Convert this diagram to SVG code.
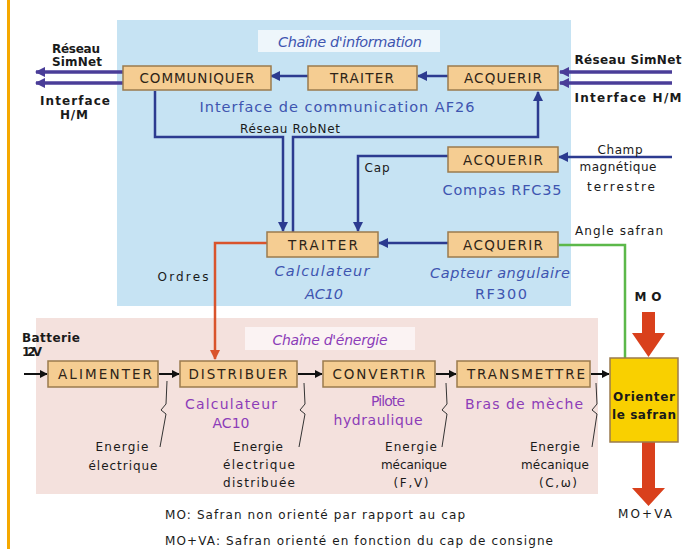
<svg xmlns="http://www.w3.org/2000/svg" width="694" height="549" viewBox="0 0 694 549">
<defs>
<style>
text{font-family:"DejaVu Sans","Liberation Sans",sans-serif;text-anchor:middle}
.bt{font-size:13.5px;fill:#2e2418}
.blue{font-size:14.5px;fill:#3e55b0}
.purp{font-size:14px;fill:#8c3cb8}
.lab{font-size:12px;fill:#1a1a1a;font-weight:bold}
.sm{font-size:12px;fill:#1a1a1a}
.box{fill:#f5cd92;stroke:#9a7b4e;stroke-width:1.5}
.bl{fill:none;stroke:#2c3b90;stroke-width:2.5}
.bk{fill:none;stroke:#111;stroke-width:2}
.thin{fill:none;stroke:#333;stroke-width:1}
.dbl{fill:none;stroke:#4a3d98;stroke-width:3.5}
</style>
<marker id="ab" viewBox="0 0 10 10" refX="9" refY="5" markerWidth="4" markerHeight="4" orient="auto"><path d="M0,0L10,5L0,10z" fill="#2c3b90"/></marker>
<marker id="ak" viewBox="0 0 10 10" refX="9" refY="5" markerWidth="4" markerHeight="4" orient="auto"><path d="M0,0L10,5L0,10z" fill="#111"/></marker>
<marker id="ar" viewBox="0 0 10 10" refX="9" refY="5" markerWidth="4" markerHeight="4" orient="auto"><path d="M0,0L10,5L0,10z" fill="#d9542c"/></marker>
<marker id="ap" viewBox="0 0 10 10" refX="9" refY="5" markerWidth="3" markerHeight="3" orient="auto"><path d="M0,0L10,5L0,10z" fill="#4a3d98"/></marker>
</defs>
<rect x="0" y="0" width="694" height="549" fill="#ffffff"/>
<rect x="7" y="0" width="3" height="549" fill="#f5a800"/>
<!-- backgrounds -->
<rect x="117" y="20" width="454" height="286" fill="#c6e3f3"/>
<rect x="258" y="30" width="182" height="22" fill="#eef6fb"/>
<text x="350" y="47" class="blue" font-style="italic" font-size="13" textLength="144">Chaîne d'information</text>
<rect x="36" y="318" width="562" height="176" fill="#f4e1dd"/>
<rect x="245" y="327" width="170" height="23" fill="#fbf3f3"/>
<text x="330" y="345" class="purp" font-style="italic" font-size="13" textLength="115">Chaîne d'énergie</text>

<!-- connectors -->
<g id="connectors">
<line x1="123" y1="72" x2="36" y2="72" class="dbl" marker-end="url(#ap)"/>
<line x1="123" y1="83" x2="36" y2="83" class="dbl" marker-end="url(#ap)"/>
<line x1="672" y1="72" x2="560" y2="72" class="dbl" marker-end="url(#ap)"/>
<line x1="672" y1="83" x2="560" y2="83" class="dbl" marker-end="url(#ap)"/>
<line x1="308" y1="76" x2="271" y2="76" class="bl" marker-end="url(#ab)"/>
<line x1="448" y1="76" x2="418" y2="76" class="bl" marker-end="url(#ab)"/>
<polyline points="155,91 155,137 283,137 283,231" class="bl" marker-end="url(#ab)"/>
<polyline points="293,232 293,137 538,137 538,92" class="bl" marker-end="url(#ab)"/>
<polyline points="448,156 358,156 358,231" class="bl" marker-end="url(#ab)"/>
<line x1="672" y1="157" x2="559" y2="157" class="bl" marker-end="url(#ab)"/>
<line x1="448" y1="243" x2="379" y2="243" class="bl" marker-end="url(#ab)"/>
<polyline points="559,245 625,245 625,358" fill="none" stroke="#5cb84a" stroke-width="2.5"/>
<polyline points="267,243 215,243 215,359" fill="none" stroke="#d9542c" stroke-width="2.5" marker-end="url(#ar)"/>
<line x1="24" y1="374" x2="47" y2="374" class="bk" marker-end="url(#ak)"/>
<line x1="159" y1="374" x2="179" y2="374" class="bk" marker-end="url(#ak)"/>
<line x1="298" y1="374" x2="322" y2="374" class="bk" marker-end="url(#ak)"/>
<line x1="436" y1="374" x2="456" y2="374" class="bk" marker-end="url(#ak)"/>
<line x1="591" y1="374" x2="609" y2="374" class="bk" marker-end="url(#ak)"/>
<polyline points="167,381 166,404 161,410 166,414 160,447" class="thin"/>
<polyline points="304,383 305,404 300,410 305,414 299,447" class="thin"/>
<polyline points="446,383 447,404 442,410 447,414 442,447" class="thin"/>
<polyline points="596,383 597,404 592,410 597,414 592,447" class="thin"/>
<path d="M642,312 h13 v21 h10 l-16.5,24 l-16.5,-24 h10 z" fill="#d9401c"/>
<path d="M642,442 h13 v46 h10 l-16.5,18 l-16.5,-18 h10 z" fill="#d9401c"/>
</g>

<!-- nodes -->
<g id="communiquer"><rect x="123" y="66" width="148" height="24" class="box"/><text x="197" y="83" class="bt" textLength="115">COMMUNIQUER</text></g>
<g id="traiter1"><rect x="308" y="66" width="109" height="24" class="box"/><text x="362" y="83" class="bt" textLength="64">TRAITER</text></g>
<g id="acquerir1"><rect x="448" y="66" width="110" height="24" class="box"/><text x="503" y="83" class="bt" textLength="78">ACQUERIR</text></g>
<g id="acquerir2"><rect x="448" y="147" width="110" height="25" class="box"/><text x="503" y="164.5" class="bt" textLength="80">ACQUERIR</text></g>
<g id="traiter2"><rect x="267" y="232" width="111" height="25" class="box"/><text x="323" y="249.5" class="bt" textLength="70">TRAITER</text></g>
<g id="acquerir3"><rect x="448" y="232" width="110" height="25" class="box"/><text x="503" y="249.5" class="bt" textLength="80">ACQUERIR</text></g>
<g id="alimenter"><rect x="48" y="361" width="110" height="26" class="box"/><text x="105" y="379" class="bt" textLength="94">ALIMENTER</text></g>
<g id="distribuer"><rect x="180" y="361" width="117" height="26" class="box"/><text x="238" y="379" class="bt" textLength="99">DISTRIBUER</text></g>
<g id="convertir"><rect x="323" y="361" width="112" height="26" class="box"/><text x="379" y="379" class="bt" textLength="93">CONVERTIR</text></g>
<g id="transmettre"><rect x="457" y="361" width="133" height="26" class="box"/><text x="526" y="379" class="bt" textLength="118">TRANSMETTRE</text></g>
<g id="orienter"><rect x="610" y="358" width="68" height="84" fill="#f9d000" stroke="#9a7b4e" stroke-width="1.5"/><text x="644" y="401" class="lab" font-size="11.5" textLength="62">Orienter</text><text x="644" y="419" class="lab" font-size="11.5" textLength="64">le safran</text></g>

<!-- labels -->
<text x="76" y="53" class="lab" font-size="10.5" textLength="48">Réseau</text>
<text x="77" y="66" class="lab" font-size="10.5" textLength="50">SimNet</text>
<text x="75" y="105" class="lab" font-size="11" textLength="70">Interface</text>
<text x="74" y="119" class="lab" font-size="11" textLength="28">H/M</text>
<text x="628" y="64" class="lab" textLength="107">Réseau SimNet</text>
<text x="628" y="102" class="lab" textLength="107">Interface H/M</text>
<text x="337" y="112" class="blue" textLength="275">Interface de communication AF26</text>
<text x="290" y="133" class="sm" font-size="11" textLength="100">Réseau RobNet</text>
<text x="377" y="172" class="sm" textLength="25">Cap</text>
<text x="502" y="195" class="blue" textLength="119">Compas RFC35</text>
<text x="620" y="154" class="sm" textLength="45">Champ</text>
<text x="618" y="171" class="sm" textLength="77">magnétique</text>
<text x="621" y="191" class="sm" textLength="68">terrestre</text>
<text x="619" y="235" class="sm" textLength="88">Angle safran</text>
<text x="322" y="276" class="blue" font-style="italic" textLength="95">Calculateur</text>
<text x="324" y="299" class="blue" font-style="italic" textLength="38">AC10</text>
<text x="500" y="278" class="blue" font-style="italic" textLength="140">Capteur angulaire</text>
<text x="501" y="299" class="blue" textLength="52">RF300</text>
<text x="183" y="281" class="sm" textLength="51">Ordres</text>
<text x="648" y="301" class="lab" textLength="27">MO</text>
<text x="22" y="342" class="lab" font-size="10.5" style="text-anchor:start" textLength="58">Batterie</text>
<text x="22" y="356" class="lab" font-size="10.5" style="text-anchor:start" textLength="20">12V</text>
<text x="231" y="409" class="purp" textLength="92">Calculateur</text>
<text x="231" y="428" class="purp" textLength="37">AC10</text>
<text x="388" y="406" class="purp" textLength="34">Pilote</text>
<text x="378" y="425" class="purp" textLength="89">hydraulique</text>
<text x="524" y="409" class="purp" textLength="118">Bras de mèche</text>
<text x="122" y="451" class="sm" textLength="53">Energie</text>
<text x="123" y="470" class="sm" textLength="69">électrique</text>
<text x="258" y="451" class="sm" textLength="50">Energie</text>
<text x="259" y="469" class="sm" textLength="72">électrique</text>
<text x="259" y="487" class="sm" textLength="72">distribuée</text>
<text x="411" y="451" class="sm" textLength="52">Energie</text>
<text x="414" y="469" class="sm" textLength="66">mécanique</text>
<text x="411" y="487" class="sm" textLength="35">(F,V)</text>
<text x="555" y="451" class="sm" textLength="50">Energie</text>
<text x="555" y="469" class="sm" textLength="68">mécanique</text>
<text x="558" y="487" class="sm" textLength="38">(C,ω)</text>
<text x="645" y="518" class="sm" textLength="54">MO+VA</text>
<text x="165" y="519" class="sm" style="text-anchor:start" textLength="300">MO: Safran non orienté par rapport au cap</text>
<text x="165" y="545" class="sm" style="text-anchor:start" textLength="388">MO+VA: Safran orienté en fonction du cap de consigne</text>
</svg>
